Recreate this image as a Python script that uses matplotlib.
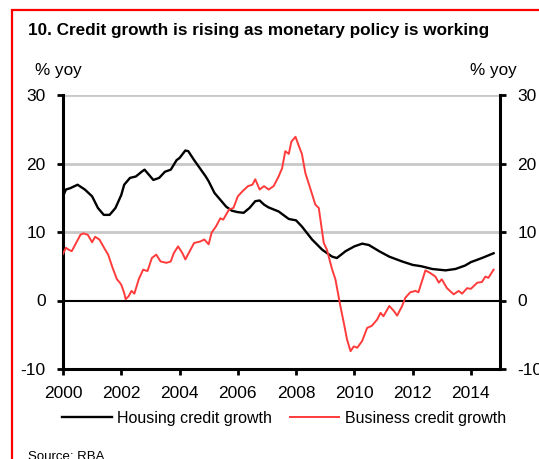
import matplotlib
matplotlib.use("Agg")
import matplotlib.pyplot as plt
from matplotlib.patches import Rectangle

plt.rcParams['font.family'] = ['Liberation Sans', 'DejaVu Sans']
plt.rcParams['axes.unicode_minus'] = False

# Housing credit growth, % yoy (decimal year, value)
housing_t = [2000.0, 2000.1, 2000.25, 2000.5, 2000.75, 2001.0, 2001.2, 2001.4, 2001.6,
             2001.8, 2002.0, 2002.1, 2002.3, 2002.5, 2002.7, 2002.8, 2003.0, 2003.1,
             2003.3, 2003.5, 2003.7, 2003.9, 2004.0, 2004.2, 2004.3, 2004.5, 2004.7,
             2004.9, 2005.0, 2005.2, 2005.4, 2005.6, 2005.8, 2006.0, 2006.2, 2006.4,
             2006.6, 2006.75, 2006.9, 2007.05, 2007.4, 2007.75, 2008.0, 2008.2,
             2008.55, 2008.9, 2009.24, 2009.4, 2009.7, 2010.0, 2010.27, 2010.5,
             2010.85, 2011.2, 2011.64, 2012.0, 2012.3, 2012.67, 2013.13, 2013.47,
             2013.8, 2014.0, 2014.38, 2014.78]
housing_v = [15.2, 16.2, 16.4, 16.9, 16.2, 15.2, 13.5, 12.5, 12.5,
             13.5, 15.4, 16.9, 17.9, 18.1, 18.8, 19.1, 18.1, 17.6,
             17.9, 18.8, 19.1, 20.5, 20.8, 21.9, 21.8, 20.5, 19.3,
             18.1, 17.4, 15.7, 14.7, 13.7, 13.1, 12.9, 12.8, 13.5,
             14.5, 14.6, 14.0, 13.6, 13.0, 11.9, 11.7, 10.8,
             8.9, 7.4, 6.4, 6.2, 7.2, 7.9, 8.3, 8.1,
             7.2, 6.4, 5.7, 5.2, 5.0, 4.6, 4.4, 4.6,
             5.1, 5.6, 6.2, 6.9]

# Business credit growth, % yoy
business_t = [2000.0, 2000.1, 2000.2, 2000.3, 2000.45, 2000.6, 2000.7, 2000.85, 2001.0,
              2001.1, 2001.25, 2001.45, 2001.55, 2001.7, 2001.85, 2001.95, 2002.0,
              2002.1, 2002.15, 2002.25, 2002.35, 2002.45, 2002.6, 2002.75, 2002.9,
              2003.05, 2003.2, 2003.35, 2003.55, 2003.7, 2003.8, 2003.95, 2004.1,
              2004.2, 2004.35, 2004.5, 2004.7, 2004.85, 2005.0, 2005.1, 2005.25,
              2005.4, 2005.5, 2005.7, 2005.85, 2006.0, 2006.15, 2006.35, 2006.5,
              2006.6, 2006.75, 2006.9, 2007.06, 2007.23, 2007.4, 2007.52, 2007.63,
              2007.75, 2007.84, 2007.98, 2008.1, 2008.2, 2008.32, 2008.5, 2008.66,
              2008.78, 2008.95, 2009.06, 2009.24, 2009.35, 2009.52, 2009.64, 2009.75,
              2009.87, 2009.98, 2010.1, 2010.27, 2010.44, 2010.6, 2010.78, 2010.9,
              2011.0, 2011.2, 2011.35, 2011.47, 2011.64, 2011.75, 2011.92, 2012.1,
              2012.2, 2012.44, 2012.61, 2012.78, 2012.9, 2013.0, 2013.18, 2013.41,
              2013.58, 2013.7, 2013.87, 2014.0, 2014.22, 2014.38, 2014.5, 2014.6,
              2014.78]
business_v = [6.8, 7.7, 7.4, 7.2, 8.4, 9.6, 9.8, 9.6, 8.5,
              9.3, 8.9, 7.4, 6.7, 4.8, 3.1, 2.6, 2.3,
              1.1, 0.2, 0.6, 1.4, 1.0, 3.1, 4.5, 4.3,
              6.2, 6.7, 5.7, 5.5, 5.7, 6.9, 7.9, 6.9,
              6.0, 7.2, 8.4, 8.6, 8.9, 8.2, 9.9, 10.8,
              12.0, 11.8, 13.3, 13.5, 15.2, 15.9, 16.7, 16.9,
              17.7, 16.2, 16.7, 16.2, 16.7, 18.1, 19.3, 21.8,
              21.4, 23.2, 23.9, 22.5, 21.4, 18.6, 16.2, 14.0,
              13.5, 8.4, 7.4, 4.5, 3.1, -0.8, -3.3, -5.7,
              -7.4, -6.7, -6.9, -5.9, -4.0, -3.7, -2.8, -1.8,
              -2.3, -0.8, -1.5, -2.2, -0.8, 0.4, 1.2, 1.4,
              1.2, 4.4, 4.0, 3.5, 2.6, 3.1, 1.8, 0.9,
              1.4, 1.0, 1.8, 1.7, 2.6, 2.7, 3.5, 3.3,
              4.5]

x_ticks = [2000, 2002, 2004, 2006, 2008, 2010, 2012, 2014]
y_ticks = [-10, 0, 10, 20, 30]

W, H = 539, 459
fig = plt.figure(figsize=(W / 100, H / 100), dpi=100)
ax = fig.add_axes([63 / W, 1 - 369 / H, (500 - 63) / W, (369 - 95) / H])

for y in [10, 20, 30]:
    ax.axhline(y, color='#c8c8c8', lw=2, zorder=1)
ax.axhline(0, color='black', lw=1.5, zorder=2)

red = '#ff3b3b'
ax.plot(housing_t, housing_v, color='black', lw=1.7, zorder=3,
        label='Housing credit growth')
ax.plot(business_t, business_v, color=red, lw=1.4, zorder=3,
        label='Business credit growth')

ax.set_xlim(2000, 2015)
ax.set_ylim(-10, 30)
ax.set_xticks(x_ticks)
ax.set_xticklabels([str(t) for t in x_ticks])
ax.set_yticks(y_ticks)

for s in ['left', 'right', 'bottom']:
    ax.spines[s].set_linewidth(2.2)
ax.spines['top'].set_visible(False)
ax.tick_params(axis='both', direction='out', length=4.5, width=2, labelsize=12.5)
ax.tick_params(axis='y', left=True, right=True, labelleft=True, labelright=True,
               pad=8)
ax.tick_params(axis='x', pad=8)

fig.text(28 / W, 1 - 30 / H, '10. Credit growth is rising as monetary policy is working',
         fontsize=12.3, fontweight='bold', va='center', ha='left')
fig.text(35 / W, 1 - 70 / H, '% yoy', fontsize=12.3, va='center', ha='left')
fig.text(470 / W, 1 - 70 / H, '% yoy', fontsize=12.3, va='center', ha='left')
fig.text(28 / W, 1 - 451 / H, 'Source: RBA', fontsize=9.5, va='top', ha='left')

fig.legend(loc='center left', bbox_to_anchor=(62 / W, 1 - 418 / H), ncol=2,
           frameon=False, fontsize=11.5, handlelength=3.1, handletextpad=0.35,
           columnspacing=1.1, borderaxespad=0, borderpad=0)

fig.patches.append(Rectangle((12 / W, -0.1), 1.2, 1.1 - 10 / H,
                             transform=fig.transFigure, fill=False,
                             edgecolor='red', lw=1.6, clip_on=False))

fig.savefig('out.png', dpi=100)
